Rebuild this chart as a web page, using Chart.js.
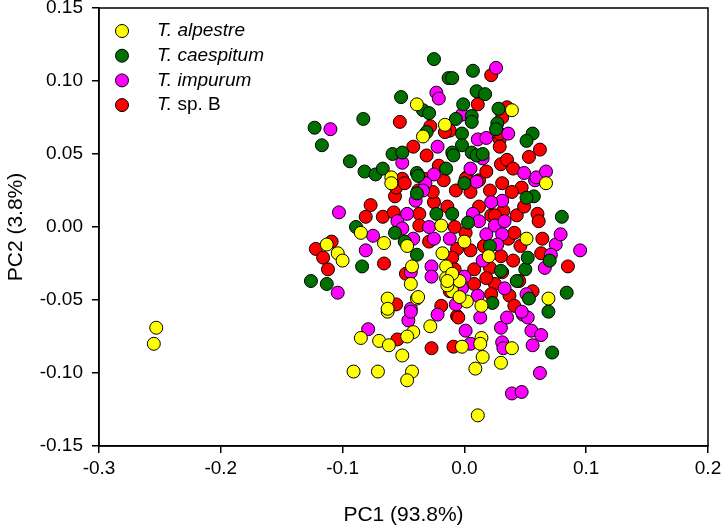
<!DOCTYPE html>
<html>
<head>
<meta charset="utf-8">
<script src="https://cdn.jsdelivr.net/npm/chart.js@4"></script>
<style>
  body { margin: 0; background: #fff; }
  #wrap { width: 722px; height: 532px; }
</style>
</head>
<body>
<div id="wrap"><canvas id="myChart" width="722" height="532"></canvas></div>
<script>
// PC1 / PC2 scores per species
const alpestre = [
  [-0.253,-0.069],[-0.255,-0.080],[0.011,-0.129],
  [-0.039,0.084],[-0.034,0.062],[-0.016,0.070],[-0.060,0.034],[0.039,0.080],
  [-0.085,-0.004],[-0.066,-0.011],[-0.113,-0.012],[-0.104,-0.018],[-0.100,-0.023],
  [-0.047,-0.013],[-0.043,-0.027],[-0.063,-0.049],[-0.039,-0.049],
  [-0.019,0.001],[-0.018,-0.018],[-0.015,-0.027],[-0.060,0.030],
  [0.067,0.030],[0.069,-0.049],[-0.010,-0.044],[-0.004,-0.037],[0.002,-0.051],[0.014,-0.054],[0.051,-0.008],
  [-0.085,-0.076],[-0.070,-0.078],[-0.062,-0.081],[-0.051,-0.088],[-0.091,-0.099],[-0.071,-0.099],
  [-0.043,-0.099],[-0.047,-0.105],[-0.042,-0.072],[-0.047,-0.075],[-0.028,-0.068],[-0.063,-0.058],
  [-0.002,-0.082],[0.014,-0.076],[0.013,-0.080],[0.015,-0.089],[0.009,-0.097],[0.030,-0.093],[0.039,-0.083],
  [-0.014,-0.040],[-0.015,-0.035],[-0.010,-0.032],[-0.044,-0.039],[-0.063,-0.056],
  [0.000,-0.010],[0.020,-0.020],[-0.014,-0.037],[-0.038,-0.048],[-0.004,-0.048]
];
const caespitum = [
  [-0.025,0.115],[-0.013,0.102],[-0.052,0.089],[-0.034,0.080],[-0.029,0.078],[-0.083,0.074],
  [-0.123,0.068],[-0.117,0.056],[-0.031,0.065],[-0.094,0.045],[-0.059,0.050],[-0.051,0.051],
  [-0.082,0.038],[-0.073,0.036],[-0.067,0.040],[-0.039,0.037],[-0.038,0.035],
  [-0.010,0.102],[0.007,0.107],[0.010,0.093],[0.017,0.091],[-0.001,0.084],[0.006,0.076],
  [0.006,0.072],[-0.007,0.074],[0.028,0.081],[0.027,0.071],[0.026,0.067],[0.056,0.064],
  [0.051,0.059],[-0.002,0.064],[-0.002,0.056],[-0.010,0.051],[0.006,0.051],[0.010,0.049],
  [-0.089,0.000],[-0.057,-0.004],[-0.084,-0.027],[-0.126,-0.037],[-0.113,-0.039],
  [-0.049,-0.010],[-0.039,-0.019],[-0.039,0.023],[-0.023,0.009],
  [0.080,0.007],[0.070,-0.023],[0.084,-0.045],[0.050,-0.029],[0.052,-0.021],[0.057,0.021],
  [-0.010,0.009],[0.051,0.020],[0.043,-0.037],[0.053,-0.049],[0.021,-0.013],
  [0.072,-0.086],[0.069,-0.058],[0.023,-0.052],
  [-0.009,0.049],[0.015,0.050],[-0.015,0.040],[0.000,0.030],[0.003,0.003],[0.030,-0.030]
];
const impurum = [
  [-0.023,0.092],[-0.021,0.088],[-0.110,0.067],[-0.022,0.055],[-0.051,0.044],[-0.025,0.036],
  [0.026,0.109],[-0.002,0.077],[0.036,0.064],[0.011,0.060],[0.018,0.061],
  [-0.103,0.010],[-0.075,-0.006],[-0.055,0.004],[-0.051,-0.001],[-0.081,-0.016],[-0.104,-0.045],
  [-0.042,-0.008],[-0.044,-0.031],[-0.044,-0.056],[-0.047,0.009],[-0.025,-0.008],
  [0.095,-0.016],[0.058,0.032],[0.018,-0.005],[0.015,-0.023],[-0.002,-0.042],[0.033,-0.042],
  [-0.079,-0.070],[-0.046,-0.064],[-0.044,-0.058],[-0.022,-0.060],
  [0.013,-0.062],[0.001,-0.071],[0.005,-0.080],[0.030,-0.069],[0.035,-0.062],[0.031,-0.079],
  [0.032,-0.083],[0.048,-0.060],[0.052,-0.062],[0.055,-0.071],[0.063,-0.074],[0.056,-0.081],
  [0.062,-0.100],[0.039,-0.114],[0.047,-0.113],
  [0.051,-0.046],[0.047,-0.058],[0.010,0.031],[0.059,0.034],[-0.032,0.030],
  [0.015,0.047],[0.005,0.040],[-0.034,0.025],[-0.040,0.018],[0.007,0.009],[0.012,0.004],
  [0.025,0.001],[0.033,0.004],[0.031,0.018],[0.022,0.017],[-0.029,0.000],[-0.012,-0.008],
  [-0.027,-0.027],[-0.027,-0.034],[0.000,-0.034],[0.011,-0.047],[-0.007,-0.053],
  [0.049,0.037],[0.067,0.038],[0.075,-0.012],[0.066,-0.028],[0.071,-0.019],[0.079,-0.005],
  [0.031,-0.005],[0.027,-0.012]
];
const spB = [
  [0.022,0.104],[0.011,0.084],[0.035,0.082],[0.031,0.075],[0.062,0.053],[0.029,0.060],
  [-0.012,0.066],[-0.053,0.072],[-0.028,0.069],[-0.016,0.065],[-0.042,0.055],[0.002,0.034],
  [-0.051,0.033],[-0.077,0.015],[-0.081,0.007],[-0.067,0.007],[-0.057,0.021],[-0.058,0.010],
  [-0.066,-0.025],[-0.122,-0.015],[-0.109,-0.010],[-0.116,-0.021],[-0.112,-0.029],
  [-0.048,-0.032],[-0.056,-0.053],[-0.056,0.027],[-0.049,0.030],[0.085,-0.027],
  [-0.055,-0.077],[-0.027,-0.083],[-0.006,-0.061],[-0.009,-0.082],[-0.005,-0.062],
  [0.029,0.064],[0.029,0.055],
  [-0.031,0.049],[-0.021,0.042],[-0.033,0.033],[-0.017,0.032],[0.001,0.033],[0.012,0.032],
  [0.018,0.038],[0.030,0.043],[0.035,0.046],[0.040,0.040],[0.031,0.030],[0.021,0.025],
  [0.005,0.024],[-0.007,0.025],[-0.025,0.017],[-0.014,0.014],[-0.037,0.009],[0.012,0.014],
  [0.022,0.008],[0.032,0.011],[0.043,0.008],[0.049,0.014],[0.047,0.027],[0.039,0.024],
  [0.053,0.048],[0.060,0.009],[0.061,0.004],[0.064,-0.008],[0.063,-0.018],[0.056,-0.044],
  [0.001,-0.004],[-0.008,0.000],[-0.029,-0.010],[-0.037,0.001],[-0.006,-0.015],[0.005,-0.016],
  [0.016,-0.013],[0.030,-0.020],[0.036,-0.008],[0.041,-0.004],[0.046,-0.013],[0.040,-0.023],
  [0.021,-0.028],[0.008,-0.029],[-0.010,-0.021],[-0.008,-0.029],[0.031,-0.031],[0.025,-0.039],
  [0.018,-0.035],[0.008,-0.039],[0.045,-0.037],[-0.012,-0.044],[0.022,-0.046],[0.037,-0.047],
  [-0.019,-0.054],[0.041,-0.054],[0.025,0.008],[-0.038,0.025],[-0.026,0.024]
];

const names = ['T. alpestre', 'T. caespitum', 'T. impurum', 'T. sp. B'];
const colors = ['#ffff00', '#007000', '#ff00ff', '#ff0000'];
const xTicks = [-0.3, -0.2, -0.1, 0.0, 0.1, 0.2];
const yTicks = [-0.15, -0.10, -0.05, 0.00, 0.05, 0.10, 0.15];

const groups = [alpestre, caespitum, impurum, spB];
const FONT = 'Liberation Sans, Arial, sans-serif';

// frame round the plot + legend with italic species names
const framePlugin = {
  id: 'frame',
  afterDraw(c) {
    const ctx = c.ctx, a = c.chartArea;
    ctx.save();
    ctx.strokeStyle = '#000';
    ctx.lineWidth = 1.5;
    ctx.strokeRect(a.left, a.top, a.right - a.left, a.bottom - a.top);
    // legend
    groups.forEach((g, i) => {
      const y = a.top + 23 + i * 24.7;
      ctx.beginPath();
      ctx.arc(a.left + 23, y, 6.5, 0, Math.PI * 2);
      ctx.fillStyle = colors[i];
      ctx.fill();
      ctx.lineWidth = 1;
      ctx.strokeStyle = '#000';
      ctx.stroke();
      ctx.fillStyle = '#000';
      ctx.textBaseline = 'middle';
      ctx.textAlign = 'left';
      const tx = a.left + 58;
      if (i === 3) {
        ctx.font = 'italic 19px ' + FONT;
        ctx.fillText('T.', tx, y);
        const w = ctx.measureText('T.').width;
        ctx.font = '19px ' + FONT;
        ctx.fillText(' sp. B', tx + w, y);
      } else {
        ctx.font = 'italic 19px ' + FONT;
        ctx.fillText(names[i], tx, y);
      }
    });
    ctx.restore();
  }
};

const ctx = document.getElementById('myChart').getContext('2d');
const chart = new Chart(ctx, {
  type: 'scatter',
  data: {
    datasets: groups.map((g, i) => ({
      label: names[i],
      data: g.map(p => ({ x: p[0], y: p[1] })),
      backgroundColor: colors[i],
      borderColor: '#000',
      borderWidth: 1,
      pointRadius: 6.5,
      pointHoverRadius: 6.5
    }))
  },
  options: {
    responsive: false,
    animation: false,
    layout: { padding: { left: 0, right: 14, top: 8, bottom: 0 } },
    plugins: {
      legend: { display: false },
      tooltip: { enabled: false }
    },
    scales: {
      x: {
        type: 'linear',
        min: -0.3,
        max: 0.2,
        afterBuildTicks: s => { s.ticks = xTicks.map(v => ({ value: v })); },
        afterFit: s => { s.height = 86; s.paddingLeft = 0; s.paddingRight = 0; },
        grid: { drawOnChartArea: false, color: '#000', tickLength: 7, lineWidth: 1.5 },
        border: { color: '#000', width: 1.5 },
        ticks: {
          color: '#000',
          font: { family: FONT, size: 19 },
          padding: 4,
          callback: v => v.toFixed(1)
        },
        title: {
          display: true,
          text: 'PC1 (93.8%)',
          color: '#000',
          font: { family: FONT, size: 21 },
          padding: { top: 12 }
        }
      },
      y: {
        type: 'linear',
        min: -0.15,
        max: 0.15,
        afterBuildTicks: s => { s.ticks = yTicks.map(v => ({ value: v })); },
        afterFit: s => { s.width = 99; s.paddingTop = 0; s.paddingBottom = 0; },
        grid: { drawOnChartArea: false, color: '#000', tickLength: 7, lineWidth: 1.5 },
        border: { color: '#000', width: 1.5 },
        ticks: {
          color: '#000',
          font: { family: FONT, size: 19 },
          padding: 9,
          callback: v => v.toFixed(2)
        },
        title: {
          display: true,
          text: 'PC2 (3.8%)',
          color: '#000',
          font: { family: FONT, size: 21 },
          padding: { bottom: 4 }
        }
      }
    }
  },
  plugins: [framePlugin]
});
</script>
</body>
</html>
